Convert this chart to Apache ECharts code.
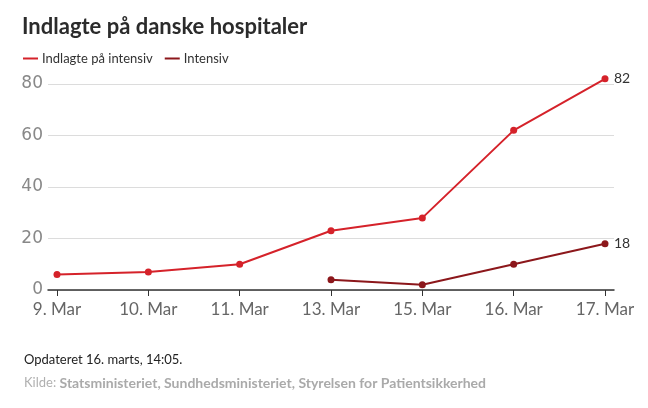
<!DOCTYPE html>
<html>
<head>
<meta charset="utf-8">
<script src="https://cdn.jsdelivr.net/npm/echarts@6/dist/echarts.min.js"></script>
<style>
  html, body { margin: 0; padding: 0; background: #fff; }
  #chart { width: 648px; height: 408px; }
</style>
</head>
<body>
<div id="chart"></div>
<script>
// --- Data ---
const days = ['9. Mar', '10. Mar', '11. Mar', '13. Mar', '15. Mar', '16. Mar', '17. Mar'];
const indlagte = [6, 7, 10, 23, 28, 62, 82];
const intensiv = [null, null, null, 4, 2, 10, 18];
const yTicks = [0, 20, 40, 60, 80];

const RED = '#d5222a';
const DARK = '#8c171b';

const chart = echarts.init(document.getElementById('chart'));

const endLabel = {
  show: true,
  formatter: p => p.value,
  color: '#333',
  fontSize: 14,
  fontFamily: 'Lato',
  distance: 9
};

const option = {
  animation: false,
  textStyle: { fontFamily: 'Lato' },
  title: [
    {
      text: 'Indlagte på danske hospitaler',
      left: 17, top: 11,
      textStyle: { fontSize: 22, fontWeight: 'bold', color: '#2b2b2b', fontFamily: 'Lato' }
    },
    {
      text: 'Opdateret 16. marts, 14:05.',
      left: 19, top: 348,
      textStyle: { fontSize: 13, fontWeight: 'normal', color: '#222', fontFamily: 'Lato' }
    },
    {
      text: '{a|Kilde: }{b|Statsministeriet, Sundhedsministeriet, Styrelsen for Patientsikkerhed}',
      left: 19, top: 371,
      textStyle: {
        fontSize: 13, fontFamily: 'Lato', fontWeight: 'normal',
        rich: {
          a: { fontSize: 13, color: '#b0b0b0', fontWeight: 'normal', fontFamily: 'Lato' },
          b: { fontSize: 14, color: '#aaa', fontWeight: 'bold', fontFamily: 'Lato' }
        }
      }
    }
  ],
  legend: {
    left: 18, top: 47,
    icon: 'rect',
    itemWidth: 15, itemHeight: 2,
    itemGap: 12,
    textStyle: { fontSize: 13, color: '#333', fontFamily: 'Lato', padding: [0, 0, 0, -1] },
    data: ['Indlagte på intensiv', 'Intensiv']
  },
  grid: [
    // data grid
    { left: 57, right: 43, top: 84, bottom: 118 },
    // frame grid: gridlines, y labels, axis line
    { left: 48, right: 34, top: 84, bottom: 118 }
  ],
  xAxis: [
    {
      type: 'category', gridIndex: 0,
      data: days,
      boundaryGap: false,
      axisLine: { show: false },
      axisTick: { show: true, length: 6, lineStyle: { color: '#333' } },
      axisLabel: { color: '#666', fontSize: 17, margin: 11, fontFamily: 'Lato' },
      splitLine: { show: false }
    },
    {
      type: 'value', gridIndex: 1, min: 0, max: 1,
      axisLine: { show: true, lineStyle: { color: '#333', width: 1.5 } },
      axisTick: { show: false },
      axisLabel: { show: false },
      splitLine: { show: false }
    }
  ],
  yAxis: [
    {
      type: 'value', gridIndex: 0, min: 0, max: 80,
      axisLine: { show: false }, axisTick: { show: false },
      axisLabel: { show: false }, splitLine: { show: false }
    },
    {
      type: 'value', gridIndex: 1, min: yTicks[0], max: yTicks[yTicks.length - 1], interval: 20,
      axisLine: { show: false }, axisTick: { show: false },
      axisLabel: { color: '#888', fontSize: 17, margin: 5, fontFamily: 'DejaVu Sans' },
      splitLine: { lineStyle: { color: '#dcdcdc', width: 1 } }
    }
  ],
  series: [
    {
      name: 'Indlagte på intensiv',
      type: 'line',
      xAxisIndex: 0, yAxisIndex: 0,
      data: indlagte,
      color: RED,
      clip: false,
      symbol: 'circle', symbolSize: 7,
      lineStyle: { width: 2 },
      endLabel
    },
    {
      name: 'Intensiv',
      type: 'line',
      xAxisIndex: 0, yAxisIndex: 0,
      data: intensiv,
      color: DARK,
      clip: false,
      symbol: 'circle', symbolSize: 7,
      lineStyle: { width: 2 },
      endLabel
    }
  ]
};

chart.setOption(option);
</script>
</body>
</html>
